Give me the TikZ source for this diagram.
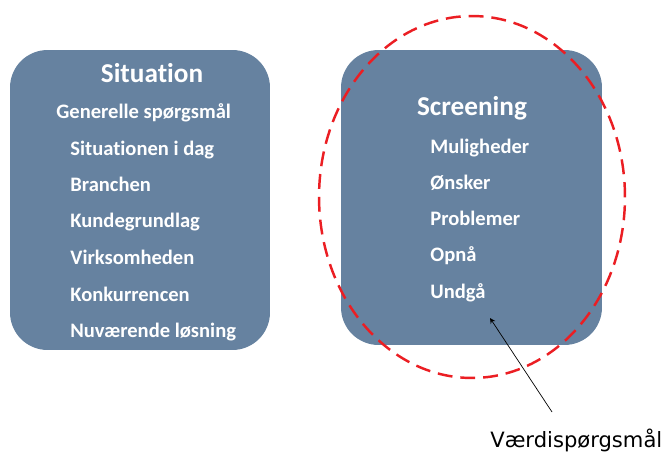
\documentclass[tikz,border=0pt]{standalone}
\usepackage{fontspec}
\setmainfont{Carlito}[Ligatures=NoCommon]
\newfontfamily\labelfont{DejaVu Sans}
\usetikzlibrary{shapes.geometric,arrows}

\definecolor{boxblue}{RGB}{102,130,160}
\definecolor{ringred}{RGB}{235,30,35}

\begin{document}
\begin{tikzpicture}[
    x=0.02cm, y=-0.02cm,
    panel/.style={rectangle, fill=boxblue, rounded corners=0.75cm},
    heading/.style={font=\fontsize{15.5}{18}\selectfont\bfseries, text=white},
    item/.style={anchor=west, font=\fontsize{11.7}{14}\selectfont\bfseries, text=white, text height=1.6ex, text depth=.4ex, inner sep=0pt},
    ring/.style={ellipse, draw=ringred, line width=1.4pt, dash pattern=on 8.5pt off 4.5pt},
    pointer/.style={->, >=stealth, thin}
]
\useasboundingbox (0,0) rectangle (666,456);

% Panels
\node[panel, minimum width=5.2cm, minimum height=6cm] (situation) at (140,200) {};
\node[panel, minimum width=5.22cm, minimum height=5.9cm] (screening) at (471.5,197.5) {};

% Situation texts
\node[heading] (sithead) at (152,73) {Situation};
\node[item] (gen) at (56,113) {Generelle spørgsmål};
\node[item] (s1) at (70,150) {Situationen i dag};
\node[item] (s2) at (70,186) {Branchen};
\node[item] (s3) at (70,222) {Kundegrundlag};
\node[item] (s4) at (70,259) {Virksomheden};
\node[item] (s5) at (70,296) {Konkurrencen};
\node[item] (s6) at (70,332) {Nuværende løsning};

% Screening texts
\node[heading] (scrhead) at (472,108) {Screening};
\node[item] (m1) at (430,148) {Muligheder};
\node[item] (m2) at (430,184) {Ønsker};
\node[item] (m3) at (430,220) {Problemer};
\node[item] (m4) at (430,256) {Opnå};
\node[item] (m5) at (430,293) {Undgå};

% Dashed ring
\node[ring, minimum width=6.12cm, minimum height=7.24cm] (ring) at (472,197) {};

% Label and pointer
\node[font=\labelfont\fontsize{12}{14}\selectfont, anchor=west, inner sep=0pt] (vaerdi) at (490,440) {Værdispørgsmål};
\coordinate (tip) at (490,318);
\coordinate (tail) at (552,412);
\draw[pointer] (tail) -- (tip);

\end{tikzpicture}
\end{document}
